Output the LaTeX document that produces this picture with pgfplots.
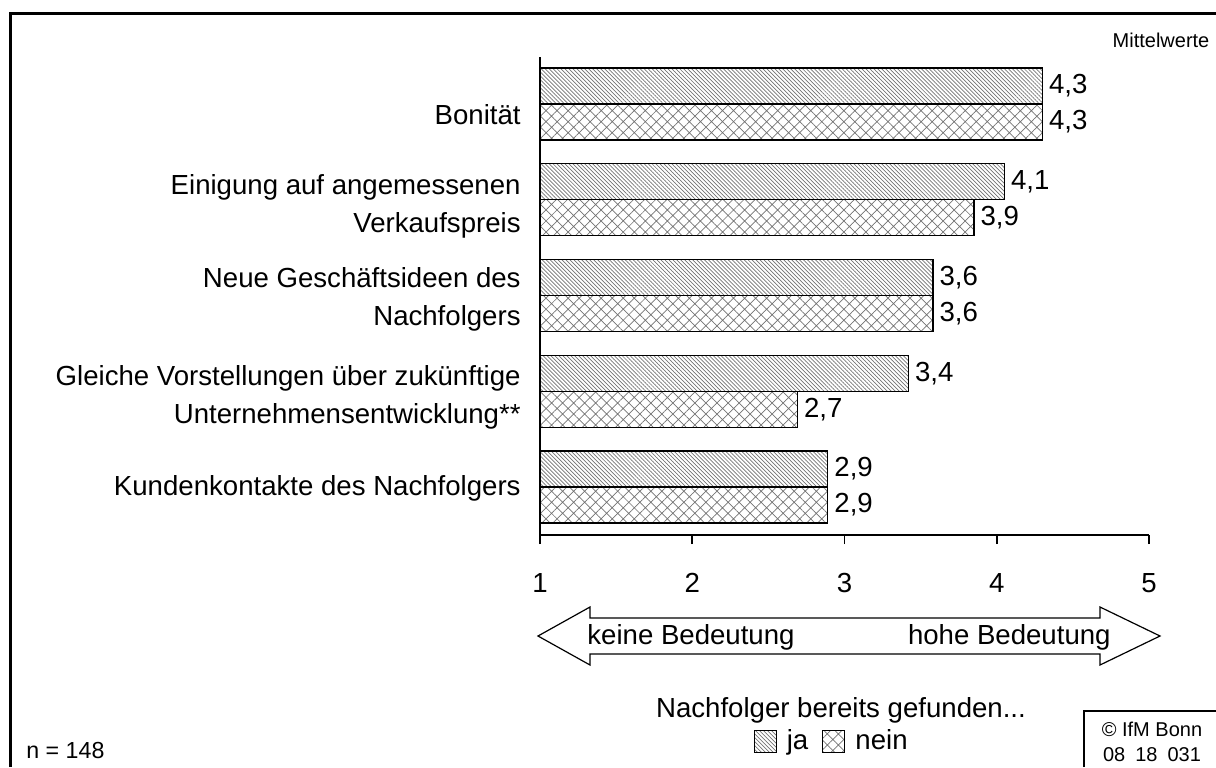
\documentclass[border=0pt]{standalone}
\usepackage{fontspec}
\setmainfont{Liberation Sans}
\usepackage{pgfplots}
\usepackage{pgfplotstable}
\pgfplotsset{compat=1.18}
\usetikzlibrary{patterns.meta}
\newcommand\mf{\fontsize{13.8}{18}\selectfont}

\pgfplotstableread{
pos v lab
4.188 4.30 4,3
3.188 4.05 4,1
2.188 3.58 3,6
1.188 3.42 3,4
0.188 2.89 2,9
}\ja
\pgfplotstableread{
pos v lab
3.812 4.30 4,3
2.812 3.85 3,9
1.812 3.58 3,6
0.812 2.69 2,7
-0.188 2.89 2,9
}\nein

\begin{document}
\begin{tikzpicture}
\begin{scope}[x=0.5pt,y=-0.5pt]
\path[use as bounding box] (0,0) rectangle (1216,767);
\draw[line width=1.5pt] (10.5,767) -- (10.5,13) -- (1216,13);
\node[font=\fontsize{10}{12}\selectfont] at (1161,40) {Mittelwerte};
\node[font=\fontsize{11.6}{13}\selectfont, anchor=west, inner sep=0pt] at (26,750) {n = 148};
\draw[line width=0.6pt] (538,636) -- (590,607) -- (590,618) -- (1100,618) -- (1100,607) -- (1160,636) -- (1100,665) -- (1100,654) -- (590,654) -- (590,665) -- cycle;
\node[font=\mf, anchor=west, inner sep=0pt] at (587,637) {keine Bedeutung};
\node[font=\mf, anchor=east, inner sep=0pt] at (1111,637) {hohe Bedeutung};
\node[font=\mf] at (841,710) {Nachfolger bereits gefunden...};
\draw[line width=0.8pt] (1084,767) -- (1084,711) -- (1216,711);
\node[font=\fontsize{10}{12}\selectfont] at (1152,729) {© IfM Bonn};
\node[font=\fontsize{10}{12}\selectfont] at (1152,755) {08\enspace 18\enspace 031};
\end{scope}
\begin{axis}[
  at={(270pt,-267.5pt)}, anchor=south west,
  scale only axis, width=304.5pt, height=239pt,
  xmin=1, xmax=5, ymin=-0.5, ymax=4.49,
  axis lines*=left,
  axis line style={line width=0.9pt},
  xtick={1,2,3,4,5}, tick align=outside, major tick length=4.5pt,
  xtick style={line width=0.9pt, black},
  ytick={0.031,0.974,2,2.97,3.927}, ytick style={draw=none},
  yticklabels={Kundenkontakte des Nachfolgers,
    {Gleiche Vorstellungen über zukünftige\\Unternehmensentwicklung**},
    {Neue Geschäftsideen des\\Nachfolgers},
    {Einigung auf angemessenen\\Verkaufspreis},
    Bonität},
  yticklabel style={align=right, font=\fontsize{13.8}{19}\selectfont, inner sep=0pt, xshift=-5pt, yshift=-2pt},
  xticklabel style={font=\mf, yshift=-11pt},
  /pgf/number format/assume math mode=true,
  xbar, bar shift=0pt, bar width=0.376,
  nodes near coords, point meta=explicit symbolic,
  nodes near coords style={font=\mf, anchor=west, inner sep=0pt, xshift=3pt},
  legend style={at={(0.350,-0.431)}, anchor=west, draw=none, fill=none,
    legend columns=2, inner sep=0pt, font=\mf, nodes={inner sep=0pt},
    /tikz/every even column/.append style={column sep=7pt}},
]
\addplot[draw=black, line width=0.7pt,
  pattern={Lines[angle=-45,distance=1.4pt,line width=0.35pt]}, pattern color=black!55,
  legend image code/.code={\draw[draw=black,line width=0.5pt,pattern={Lines[angle=-45,distance=1.4pt,line width=0.35pt]}, pattern color=black!55] (0pt,-5.5pt) rectangle (11pt,5.5pt); \path (16pt,0pt);}]
  table[x=v,y=pos,meta=lab]{\ja};
\addplot[draw=black, line width=0.7pt,
  pattern={Hatch[angle=45,distance=3.9pt,line width=0.35pt]}, pattern color=black!55,
  legend image code/.code={\draw[draw=black,line width=0.5pt,pattern={Hatch[angle=45,distance=3.9pt,line width=0.35pt]}, pattern color=black!55] (0pt,-5.5pt) rectangle (11pt,5.5pt); \path (16pt,0pt);}]
  table[x=v,y=pos,meta=lab]{\nein};
\legend{ja, nein}
\end{axis}
\end{tikzpicture}
\end{document}
